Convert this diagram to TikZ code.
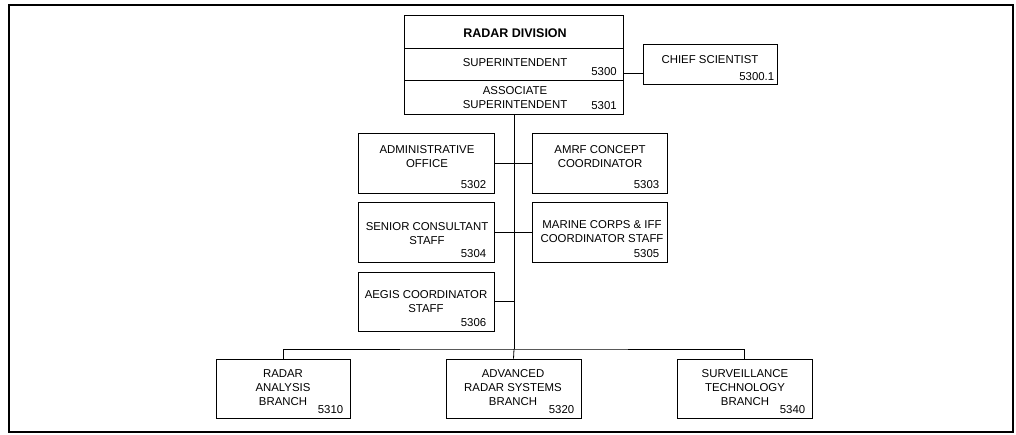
\documentclass[tikz,border=0pt]{standalone}
\usepackage{fontspec}
\setmainfont{Liberation Sans}

\begin{document}
\begin{tikzpicture}[x=1pt, y=-1pt,
        box/.style={shape=rectangle, draw=black, line width=0.9pt, inner sep=0pt},
        txt/.style={align=center, inner sep=0pt, font=\fontsize{11.4}{14}\selectfont},
        num/.style={anchor=south east, inner sep=0pt, font=\fontsize{11.4}{14}\selectfont}]

        \useasboundingbox (0,0) rectangle (1016,435);
        \draw[line width=2pt] (9,5) rectangle (1013,432);

        % division head
        \node[box, minimum width=219pt, minimum height=33pt] (title) at (514,31.5) {};
        \node[box, minimum width=219pt, minimum height=32pt] (sup) at (514,64) {};
        \node[box, minimum width=219pt, minimum height=34pt] (assoc) at (514,97) {};
        \node[txt, font=\fontsize{12.5}{14}\selectfont\bfseries] (titletxt) at (515,33) {RADAR DIVISION};
        \node[txt] (suptxt) at (515,63) {SUPERINTENDENT};
        \node[num] (supnum) at ([xshift=-7pt,yshift=5pt]sup.south east) {5300};
        \node[txt] (assoctxt) at (515,98) {ASSOCIATE\\SUPERINTENDENT};
        \node[num] (assocnum) at ([xshift=-7pt,yshift=5pt]assoc.south east) {5301};

        \node[box, minimum width=134pt, minimum height=40pt] (chief) at (710,64) {};
        \node[txt] (chieftxt) at (710,60) {CHIEF SCIENTIST};
        \node[num] (chiefnum) at ([xshift=-3pt,yshift=4pt]chief.south east) {5300.1};

        % staff
        \node[box, minimum width=136pt, minimum height=60pt] (admin) at (426,163) {};
        \node[txt] (admintxt) at (427,157) {ADMINISTRATIVE\\OFFICE};
        \node[num] (adminnum) at ([xshift=-8pt,yshift=5pt]admin.south east) {5302};

        \node[box, minimum width=135pt, minimum height=60pt] (amrf) at (599.5,163) {};
        \node[txt] (amrftxt) at (600,157) {AMRF CONCEPT\\COORDINATOR};
        \node[num] (amrfnum) at ([xshift=-8pt,yshift=5pt]amrf.south east) {5303};

        \node[box, minimum width=136pt, minimum height=60pt] (senior) at (426,232) {};
        \node[txt] (seniortxt) at (427,234) {SENIOR CONSULTANT\\STAFF};
        \node[num] (seniornum) at ([xshift=-8pt,yshift=5pt]senior.south east) {5304};

        \node[box, minimum width=135pt, minimum height=60pt] (marine) at (599.5,232) {};
        \node[txt] (marinetxt) at (602,232) {MARINE CORPS \& IFF\\COORDINATOR STAFF};
        \node[num] (marinenum) at ([xshift=-8pt,yshift=5pt]marine.south east) {5305};

        \node[box, minimum width=136pt, minimum height=59pt] (aegis) at (426,301.5) {};
        \node[txt] (aegistxt) at (426,302) {AEGIS COORDINATOR\\STAFF};
        \node[num] (aegisnum) at ([xshift=-8pt,yshift=5pt]aegis.south east) {5306};

        % branches
        \node[box, minimum width=134pt, minimum height=59pt] (radar) at (283,388.5) {};
        \node[txt] (radartxt) at (283,388) {RADAR\\ANALYSIS\\BRANCH};
        \node[num] (radarnum) at ([xshift=-7pt,yshift=5pt]radar.south east) {5310};

        \node[box, minimum width=135pt, minimum height=59pt] (adv) at (513.5,388.5) {};
        \node[txt] (advtxt) at (513,388) {ADVANCED\\RADAR SYSTEMS\\BRANCH};
        \node[num] (advnum) at ([xshift=-7pt,yshift=5pt]adv.south east) {5320};

        \node[box, minimum width=135pt, minimum height=59pt] (surv) at (744.5,388.5) {};
        \node[txt] (survtxt) at (745,388) {SURVEILLANCE\\TECHNOLOGY\\BRANCH};
        \node[num] (survnum) at ([xshift=-7pt,yshift=5pt]surv.south east) {5340};

        \coordinate (bus) at (514,349);

    \begin{scope}[line width=0.8pt, every edge/.style={draw=black}]

        \draw ([yshift=-9pt]sup.east) edge ([yshift=-9pt]chief.west);
        \draw (assoc.south) edge (bus);
        \draw (admin.east) edge (amrf.west);
        \draw (senior.east) edge (marine.west);
        \draw (aegis.east) edge (aegis.east -| assoc.south);
        \draw (radar.north) |- (bus) -| (surv.north);
        \draw (bus) edge (adv.north);

    \end{scope}

\end{tikzpicture}
\end{document}
